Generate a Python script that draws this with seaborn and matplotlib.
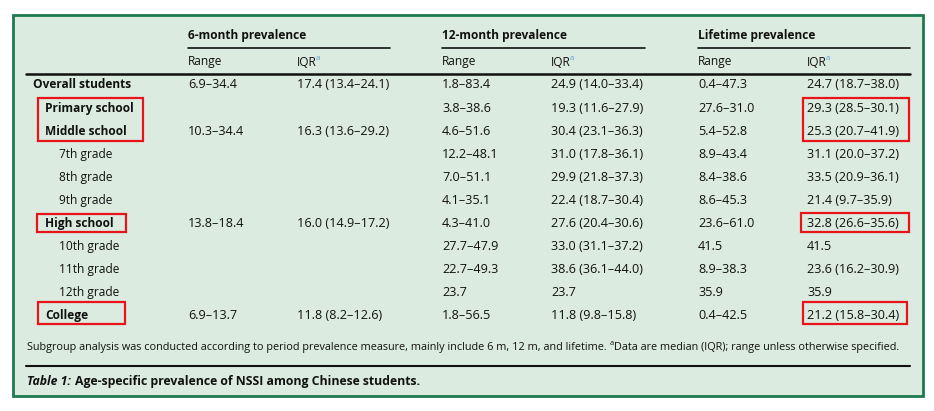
import pandas as pd
import seaborn as sns
import matplotlib.pyplot as plt
from matplotlib.patches import Rectangle

# Table content
groups = ["Overall students", "Primary school", "Middle school", "7th grade", "8th grade",
          "9th grade", "High school", "10th grade", "11th grade", "12th grade", "College"]
levels = [0, 1, 1, 2, 2, 2, 1, 2, 2, 2, 1]
range_6m = ["6.9–34.4", "", "10.3–34.4", "", "", "", "13.8–18.4", "", "", "", "6.9–13.7"]
iqr_6m = ["17.4 (13.4–24.1)", "", "16.3 (13.6–29.2)", "", "", "", "16.0 (14.9–17.2)", "", "", "",
          "11.8 (8.2–12.6)"]
range_12m = ["1.8–83.4", "3.8–38.6", "4.6–51.6", "12.2–48.1", "7.0–51.1", "4.1–35.1",
             "4.3–41.0", "27.7–47.9", "22.7–49.3", "23.7", "1.8–56.5"]
iqr_12m = ["24.9 (14.0–33.4)", "19.3 (11.6–27.9)", "30.4 (23.1–36.3)", "31.0 (17.8–36.1)",
           "29.9 (21.8–37.3)", "22.4 (18.7–30.4)", "27.6 (20.4–30.6)", "33.0 (31.1–37.2)",
           "38.6 (36.1–44.0)", "23.7", "11.8 (9.8–15.8)"]
range_life = ["0.4–47.3", "27.6–31.0", "5.4–52.8", "8.9–43.4", "8.4–38.6", "8.6–45.3",
              "23.6–61.0", "41.5", "8.9–38.3", "35.9", "0.4–42.5"]
iqr_life = ["24.7 (18.7–38.0)", "29.3 (28.5–30.1)", "25.3 (20.7–41.9)", "31.1 (20.0–37.2)",
            "33.5 (20.9–36.1)", "21.4 (9.7–35.9)", "32.8 (26.6–35.6)", "41.5",
            "23.6 (16.2–30.9)", "35.9", "21.2 (15.8–30.4)"]
periods = ["6-month prevalence", "12-month prevalence", "Lifetime prevalence"]
footnote = ("Subgroup analysis was conducted according to period prevalence measure, "
            "mainly include 6 m, 12 m, and lifetime. ")
footnote2 = "Data are median (IQR); range unless otherwise specified."
caption = "Age-specific prevalence of NSSI among Chinese students."

df = pd.DataFrame({"group": groups, "level": levels,
                   "r6": range_6m, "i6": iqr_6m, "r12": range_12m, "i12": iqr_12m,
                   "rl": range_life, "il": iqr_life})

sns.set_theme(style="white")
plt.rcParams['font.family'] = ['Open Sans', 'DejaVu Sans']

fig = plt.figure(figsize=(9.34, 4.11), dpi=100)
ax = fig.add_axes([0, 0, 1, 1])
ax.set_xlim(0, 934)
ax.set_ylim(411, 0)
ax.axis("off")

bg = "#dcebdf"
ax.add_patch(Rectangle((13, 15), 910, 381, facecolor=bg, edgecolor="#1e7a4e", lw=2))

fs = 8.6      # words
fs_num = 9.1  # numbers
txt = "#111111"
col_x = {"r6": 188, "i6": 297, "r12": 442, "i12": 551, "rl": 698, "il": 807}
group_x = [188, 442, 698]
group_w = [202, 203, 212]

# header
for name, gx, gw in zip(periods, group_x, group_w):
    ax.text(gx, 35, name, fontsize=fs, fontweight="bold", color=txt, va="center")
    ax.plot([gx, gx + gw], [48, 48], color="#111111", lw=1.2)
    ax.text(gx, 62, "Range", fontsize=fs, color=txt, va="center")
    ax.text(gx + 109, 62, "IQR", fontsize=fs, color=txt, va="center")
    ax.text(gx + 109 + 19, 58, "a", fontsize=5.5, color="#5b9bd5", va="center")
ax.plot([26, 910], [74, 74], color="#111111", lw=1.8)

# rows
row_y = [85 + 23 * i for i in range(len(df))]
indent = {0: 33, 1: 45, 2: 59}
for y, row in zip(row_y, df.itertuples()):
    ax.text(indent[row.level], y, row.group, fontsize=fs, color=txt, va="center",
            fontweight="bold" if row.level < 2 else "normal")
    for key, x in col_x.items():
        ax.text(x, y, getattr(row, key), fontsize=fs_num, color=txt, va="center")

# red highlight boxes
red = "#e8141b"
for x0, x1, y0, y1 in [(38, 143, 98, 141), (37, 126, 214, 232), (38, 125, 302, 324),
                       (803, 909, 98, 141), (801, 909, 213, 232), (803, 907, 302, 324)]:
    ax.add_patch(Rectangle((x0, y0), x1 - x0, y1 - y0, fill=False, edgecolor=red, lw=1.6))

# footnote and caption
ft = ax.text(27, 347, footnote, fontsize=7.85, color=txt, va="center")
fig.canvas.draw()
bb = ft.get_window_extent().transformed(ax.transData.inverted())
ax.text(bb.x1, 343, "a", fontsize=5.2, color=txt, va="center")
ax.text(bb.x1 + 5, 347, footnote2, fontsize=7.85, color=txt, va="center")
ax.plot([26, 910], [366, 366], color="#111111", lw=1.5)
cap = ax.text(27, 381, "Table 1:", fontsize=8.8, fontweight="bold", fontstyle="italic",
              color=txt, va="center")
bb = cap.get_window_extent().transformed(ax.transData.inverted())
ax.text(bb.x1 + 4, 381, caption, fontsize=8.8, fontweight="bold", color=txt, va="center")

fig.savefig("out.png", dpi=100, facecolor="white")
